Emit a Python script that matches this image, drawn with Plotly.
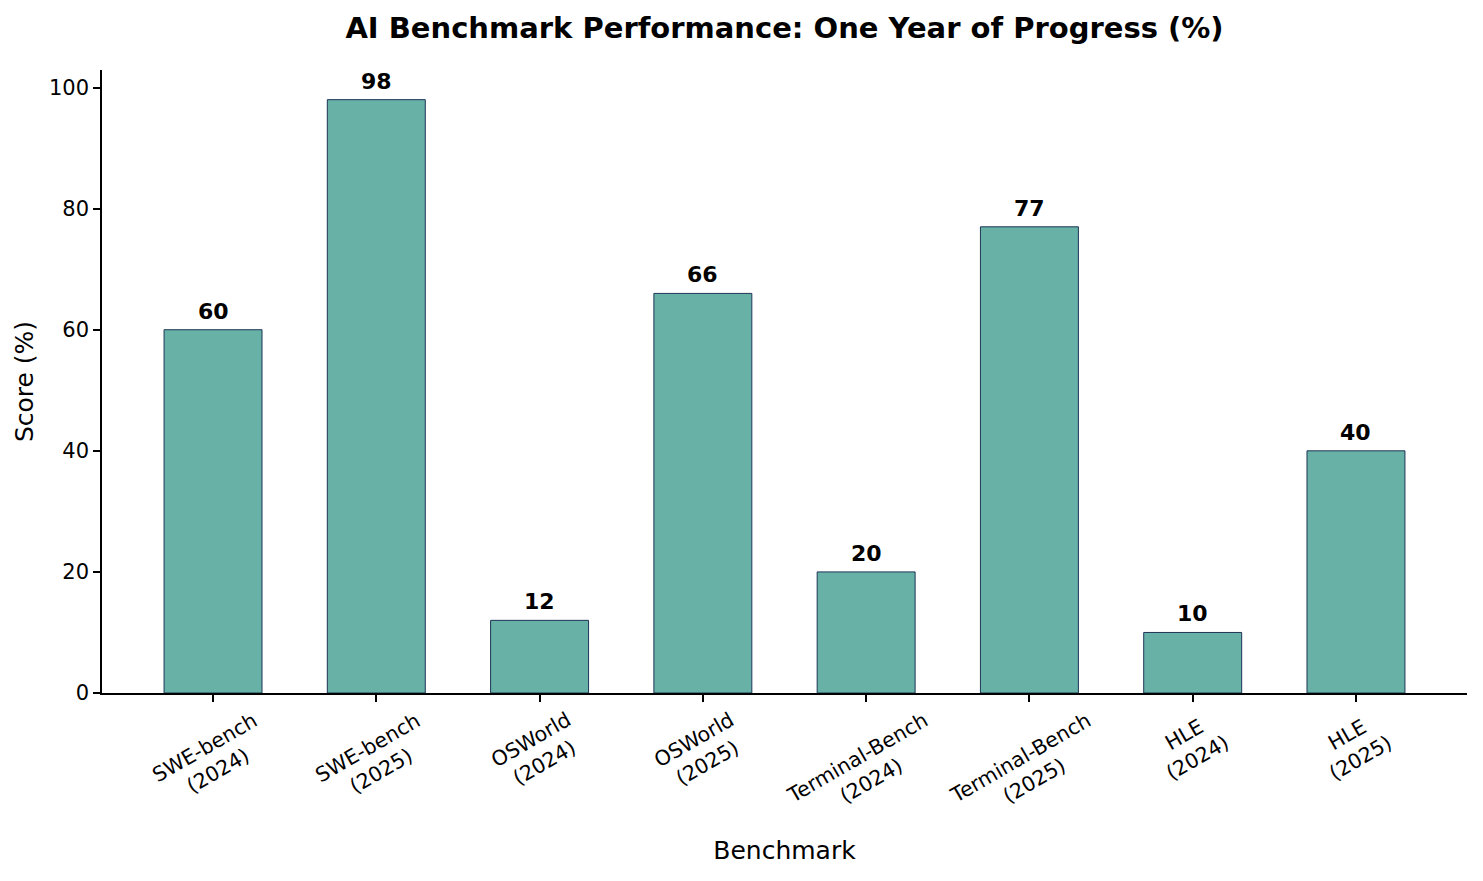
import plotly.graph_objects as go

categories = ["SWE-bench<br>(2024)", "SWE-bench<br>(2025)", "OSWorld<br>(2024)", "OSWorld<br>(2025)",
              "Terminal-Bench<br>(2024)", "Terminal-Bench<br>(2025)", "HLE<br>(2024)", "HLE<br>(2025)"]
scores = [60, 98, 12, 66, 20, 77, 10, 40]

FONT = "DejaVu Sans"
x = list(range(len(categories)))

fig = go.Figure()
fig.add_trace(go.Bar(
    x=x, y=scores, width=0.6,
    marker=dict(color="#67b1a7", line=dict(color="#1d3557", width=1)),
    showlegend=False, hoverinfo="skip",
))

annotations = []
for xi, v in zip(x, scores):
    annotations.append(dict(x=xi, y=v, xref="x", yref="y", text=f"<b>{v}</b>", showarrow=False,
                            yanchor="bottom", yshift=4, font=dict(family=FONT, size=22, color="black")))
for xi, c in zip(x, categories):
    annotations.append(dict(x=xi, y=0, xref="x", yref="paper", text=c, showarrow=False,
                            textangle=-30, yanchor="top", xanchor="center", xshift=-2, yshift=-12,
                            font=dict(family=FONT, size=20.5, color="black")))

fig.update_layout(
    width=1483, height=881,
    margin=dict(l=102, r=16, t=70, b=188),
    plot_bgcolor="white", paper_bgcolor="white",
    font=dict(family=FONT, size=21, color="black"),
    title=dict(text="<b>AI Benchmark Performance: One Year of Progress (%)</b>",
               x=0.529, xanchor="center", y=0.968, yanchor="middle",
               font=dict(family=FONT, size=29, color="black")),
    annotations=annotations,
    bargap=0.4,
)
fig.update_xaxes(
    range=[-0.68, 7.68], tickmode="array", tickvals=x, showticklabels=False,
    ticks="outside", ticklen=7, tickcolor="black", tickwidth=1.5,
    showline=True, linecolor="black", linewidth=1.6, showgrid=False, zeroline=False,
    title=dict(text="Benchmark", font=dict(family=FONT, size=25), standoff=141),
)
fig.update_yaxes(
    range=[0, 102.9], tickvals=[0, 20, 40, 60, 80, 100],
    ticks="outside", ticklen=7, tickcolor="black", tickwidth=1.5,
    showline=True, linecolor="black", linewidth=1.6, showgrid=False, zeroline=False,
    tickfont=dict(family=FONT, size=21),
    title=dict(text="Score (%)", font=dict(family=FONT, size=25), standoff=8),
)

fig.write_html("out.html")
